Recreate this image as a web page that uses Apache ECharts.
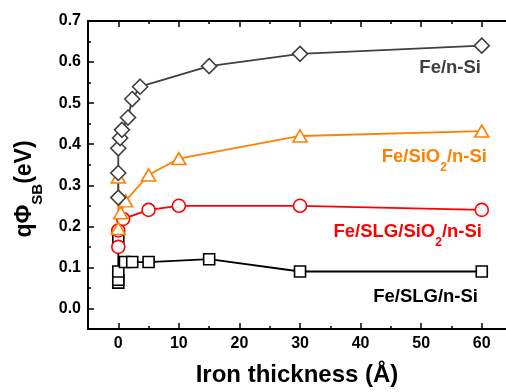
<!DOCTYPE html>
<html lang="en">
<head>
    <meta charset="UTF-8">
    <title>Barrier height vs iron thickness</title>
</head>
<body style="margin:0;background:#fff;">
<div id="main" style="width:506px;height:392px;"></div>
<script src="https://cdn.jsdelivr.net/npm/echarts@6/dist/echarts.min.js"></script>
<script>
    // data: [thickness (Å), qPhi_SB (eV)]
    var feSi = [[0, 0.27], [0, 0.33], [0, 0.39], [0.3, 0.415], [0.6, 0.435], [1.6, 0.465],
        [2.3, 0.51], [3.6, 0.54], [15, 0.59], [30, 0.62], [60, 0.64]];
    var feSiO2 = [[0, 0.32], [0, 0.195], [0.4, 0.233], [1.2, 0.262], [5, 0.325], [10, 0.365],
        [30, 0.42], [60, 0.432]];
    var feSlgSiO2 = [[0, 0.15], [0, 0.19], [0.8, 0.218], [5, 0.24], [10, 0.25], [30, 0.25], [60, 0.24]];
    var feSlgSi = [[0, 0.165], [0, 0.063], [0, 0.07], [0, 0.09], [1.1, 0.113], [2.3, 0.113],
        [5, 0.113], [15, 0.12], [30, 0.09], [60, 0.09]];

    var xMajor = [0, 10, 20, 30, 40, 50, 60];
    var xMinor = [5, 15, 25, 35, 45, 55];
    var yMajor = [0, 0.1, 0.2, 0.3, 0.4, 0.5, 0.6, 0.7];
    var yMinor = [0.05, 0.15, 0.25, 0.35, 0.45, 0.55, 0.65];

    var font = 'Liberation Sans';

    function makeAxis(kind, pos, ticks, len, withLabels, showLine) {
        return {
            type: 'value',
            position: pos,
            min: kind === 'x' ? -5 : -0.05,
            max: kind === 'x' ? 64 : 0.7,
            splitLine: {show: false},
            axisLine: {show: showLine, onZero: false, lineStyle: {color: '#000', width: 2}},
            axisTick: {show: true, inside: true, length: len, customValues: ticks,
                lineStyle: {color: '#000', width: 1.5}},
            axisLabel: {show: withLabels, customValues: ticks, margin: 7,
                fontFamily: font, fontWeight: 'bold', fontSize: 16, color: '#000',
                formatter: function (v) { return kind === 'x' ? String(v) : v.toFixed(1); }}
        };
    }

    var xAxes = [
        makeAxis('x', 'bottom', xMajor, 6, true, true),
        makeAxis('x', 'bottom', xMinor, 3, false, false),
        makeAxis('x', 'top', xMajor, 6, false, true),
        makeAxis('x', 'top', xMinor, 3, false, false)
    ];
    xAxes[0].name = 'Iron thickness (Å)';
    xAxes[0].nameLocation = 'middle';
    xAxes[0].nameGap = 34;
    xAxes[0].nameTextStyle = {fontFamily: font, fontWeight: 'bold', fontSize: 24, color: '#000'};

    var yAxes = [
        makeAxis('y', 'left', yMajor, 6, true, true),
        makeAxis('y', 'left', yMinor, 3, false, false)
    ];
    // subscript: tiny box height + bottom alignment pushes "SB" below the baseline
    yAxes[0].name = '{n|qΦ}{s|SB}{n|(eV)}';
    yAxes[0].nameLocation = 'middle';
    yAxes[0].nameGap = 50;
    yAxes[0].nameTextStyle = {
        color: '#000',
        padding: [0, 28, 0, 0],
        rich: {
            n: {fontFamily: font, fontWeight: 'bold', fontSize: 23, lineHeight: 26, color: '#000'},
            s: {fontFamily: font, fontWeight: 'bold', fontSize: 15, lineHeight: 1, height: 1,
                verticalAlign: 'bottom', color: '#000'}
        }
    };

    function line(name, data, symbol, size, color) {
        return {
            name: name,
            type: 'line',
            data: data,
            symbol: symbol,
            symbolSize: size,
            showAllSymbol: true,
            lineStyle: {color: color, width: 1.8},
            itemStyle: {color: '#fff', borderColor: color, borderWidth: 1.6}
        };
    }

    function labelRich(color) {
        return {
            a: {fontFamily: font, fontWeight: 'bold', fontSize: 18.5, lineHeight: 22, fill: color},
            b: {fontFamily: font, fontWeight: 'bold', fontSize: 12, lineHeight: 1, height: 1,
                verticalAlign: 'bottom', fill: color}
        };
    }

    // series name tags at the right end of each curve
    function seriesLabel(text, x, y, color) {
        return {
            type: 'text', x: x, y: y,
            style: {text: text, rich: labelRich(color), fill: color, align: 'right', verticalAlign: 'middle'}
        };
    }

    var myChart = echarts.init(document.getElementById('main'));
    var option = {
        animation: false,
        backgroundColor: '#fff',
        grid: {left: 88, right: 0, top: 21, bottom: 60},
        xAxis: xAxes,
        yAxis: yAxes,
        // drawn bottom-up so the upper curves' markers sit on top, as in the figure
        series: [
            line('Fe/SLG/n-Si', feSlgSi, 'rect', 11, '#000000'),
            line('Fe/SLG/SiO2/n-Si', feSlgSiO2, 'circle', 13, '#ff0000'),
            line('Fe/SiO2/n-Si', feSiO2, 'triangle', [14, 12], '#ff8000'),
            line('Fe/n-Si', feSi, 'diamond', [15, 15], '#404040')
        ],
        graphic: [
            seriesLabel('{a|Fe/n-Si}', 481, 68, '#404040'),
            seriesLabel('{a|Fe/SiO}{b|2}{a|/n-Si}', 487, 157, '#ff8000'),
            seriesLabel('{a|Fe/SLG/SiO}{b|2}{a|/n-Si}', 482, 232, '#ff0000'),
            seriesLabel('{a|Fe/SLG/n-Si}', 478, 297, '#000000')
        ]
    };
    myChart.setOption(option);
</script>
</body>
</html>
